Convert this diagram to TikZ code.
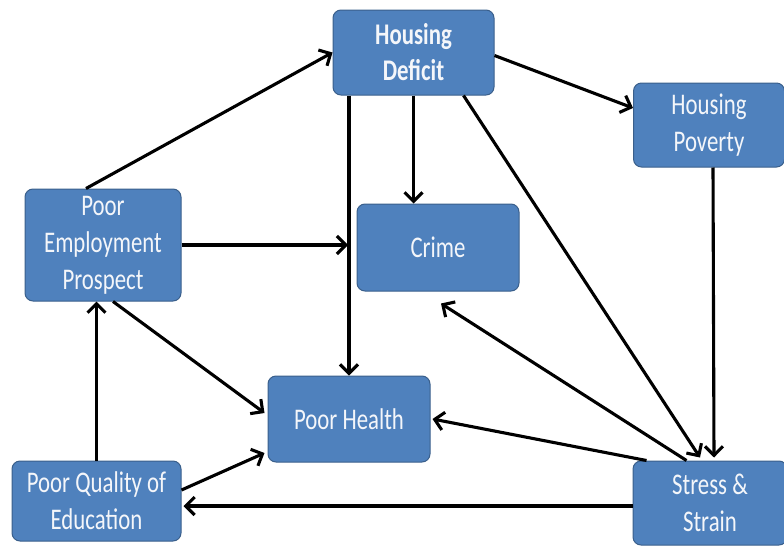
\documentclass[tikz,border=0pt]{standalone}
\usepackage{fontspec}
\setmainfont[FakeStretch=0.76]{Carlito}
\usetikzlibrary{arrows.meta,calc}
\definecolor{boxfill}{HTML}{4F81BD}
\definecolor{boxline}{HTML}{3A5F8B}
\definecolor{boxtext}{HTML}{F4F6FA}
\tikzset{
  box/.style={draw=boxline, fill=boxfill, line width=1pt, rounded corners=8pt,
    text=boxtext, align=center, inner sep=0pt,
    font=\fontsize{30}{37}\selectfont},
  arr/.style={draw=black, line width=3.1pt,
    -{Straight Barb[length=9pt,width=18pt,line width=3.1pt]}}
}
\begin{document}
\begin{tikzpicture}[x=1pt,y=-1pt]
\useasboundingbox (0,0) rectangle (784,546);
\node[box, minimum width=161pt, minimum height=85pt, font=\fontsize{30}{36}\selectfont\bfseries] (hd) at (413.5,52.5) {Housing\\Deficit};
\node[box, minimum width=151pt, minimum height=84pt] (hp) at (709,125) {Housing\\Poverty};
\node[box, minimum width=156pt, minimum height=112pt] (pep) at (103,245) {Poor\\Employment\\Prospect};
\node[box, minimum width=162pt, minimum height=87pt] (cr) at (438,247.5) {Crime};
\node[box, minimum width=162pt, minimum height=86pt] (ph) at (349,419) {Poor Health};
\node[box, minimum width=169pt, minimum height=80pt] (edu) at (96.5,501) {Poor Quality of\\Education};
\node[box, minimum width=154pt, minimum height=84pt] (st) at (710,503) {Stress \&\\Strain};

\draw[arr] ([xshift=-17pt]pep.north) -- (hd.west);
\draw[arr] ([yshift=-3pt]hd.east) -- ([yshift=17pt]hp.west);
\draw[arr] (hd.south -| ph.north) -- (ph.north);
\draw[arr] (hd.south) -- (hd.south |- cr.north);
\draw[arr] ([xshift=50pt]hd.south) -- ([xshift=-10pt,yshift=3pt]st.north);
\draw[arr] ([xshift=4pt]hp.south) -- ([xshift=4pt,yshift=3pt]st.north);
\draw[arr] (pep.east) -- ([xshift=-1pt]pep.east -| ph.north);
\draw[arr] ([xshift=10pt]pep.south) -- ([xshift=-3pt,yshift=6pt]ph.west);
\draw[arr] (edu.north) -- (edu.north |- pep.south);
\draw[arr] ([yshift=11pt]edu.east) -- ([xshift=-3pt,yshift=-34pt]ph.west);
\draw[arr] ([xshift=14pt]st.north west) -- ([xshift=2pt]ph.east);
\draw[arr] ([xshift=54pt]st.north west) -- ([xshift=3pt,yshift=-12pt]cr.south);
\draw[arr] ([yshift=-3pt]st.west) -- ([xshift=2pt,yshift=-3pt]st.west -| edu.east);
\end{tikzpicture}
\end{document}
